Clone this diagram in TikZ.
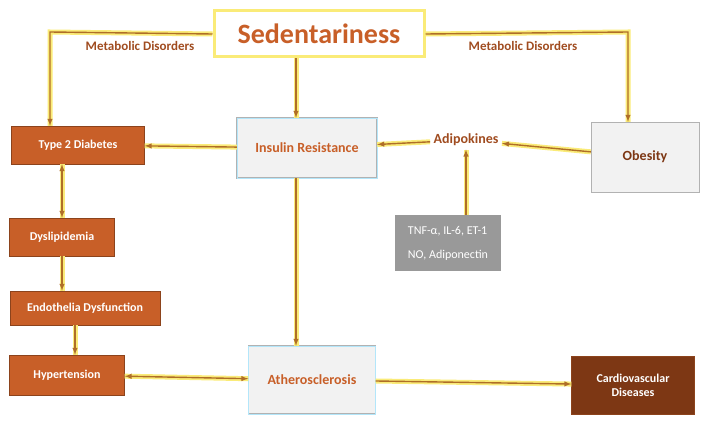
\documentclass[tikz,border=0pt]{standalone}
\usepackage{fontspec}
\setsansfont{Carlito}
\usetikzlibrary{arrows,positioning}
\definecolor{rust}{RGB}{200,95,40}
\definecolor{darkrust}{RGB}{125,55,20}
\definecolor{glow}{RGB}{250,235,120}
\definecolor{line}{RGB}{175,110,40}
\begin{document}
\begin{tikzpicture}[x=1pt,y=-1pt,font=\sffamily\bfseries\fontsize{12}{14}\selectfont,
  orange box/.style={draw=rust!70!black,fill=rust,text=white,minimum height=38pt,inner sep=3pt},
  pale box/.style={draw=gray!60,fill=gray!10,text=rust,minimum height=60pt,font=\sffamily\bfseries\fontsize{14}{16}\selectfont},
  glow line/.style={glow,line width=5pt},
  conn/.style={line,line width=1.4pt,-latex,preaction={draw=glow,line width=5pt,-}}]
  \useasboundingbox (0,0) rectangle (720,436);
  \node[draw=glow,line width=3pt,fill=white,text=rust,minimum width=210pt,minimum height=46pt,font=\sffamily\bfseries\fontsize{28}{30}\selectfont] (sed) at (319,34) {Sedentariness};
  \node[orange box,minimum width=133pt] (t2d) at (78,145) {Type 2 Diabetes};
  \node[pale box,minimum width=140pt,double=cyan!30,double distance=1pt] (ir) at (307,148) {Insulin Resistance};
  \node[text=rust!80!black,font=\sffamily\bfseries\fontsize{14}{16}\selectfont] (adi) at (466,140) {Adipokines};
  \node[pale box,minimum width=108pt,minimum height=70pt,text=darkrust] (ob) at (645,157) {Obesity};
  \node[fill=gray!80,text=white,minimum width=106pt,minimum height=56pt,align=left,font=\sffamily\fontsize{12}{14}\selectfont] (tnf) at (448,243) {TNF-α, IL-6, ET-1\\[10pt]NO, Adiponectin};
  \node[orange box,minimum width=105pt] (dys) at (62,237) {Dyslipidemia};
  \node[orange box,minimum width=150pt,minimum height=34pt] (endo) at (85,308) {Endothelia Dysfunction};
  \node[orange box,minimum width=115pt,minimum height=40pt] (hyp) at (67,375) {Hypertension};
  \node[pale box,minimum width=127pt,minimum height=68pt,double=cyan!30,double distance=1pt] (ath) at (312,380) {Atherosclerosis};
  \node[orange box,fill=darkrust,minimum width=123pt,minimum height=58pt,align=center] (cvd) at (633,385) {Cardiovascular\\Diseases};
  \coordinate (lc) at (50,32);
  \coordinate (rc) at (628,32);
  \draw[conn] (sed.west) -- (lc) -- (t2d.north -| lc);
  \draw[conn] (sed.east) -- (rc) -- (ob.north -| rc);
  \node[text=rust!80!black,font=\sffamily\bfseries\fontsize{13}{15}\selectfont] at (140,46) {Metabolic Disorders};
  \node[text=rust!80!black,font=\sffamily\bfseries\fontsize{13}{15}\selectfont] at (523,46) {Metabolic Disorders};
  \draw[conn] (sed.south -| 296,0) -- (ir.north -| 296,0);
  \draw[conn] (ob) -- (adi);
  \draw[conn] (adi) -- (ir);
  \draw[conn] (ir) -- (t2d);
  \draw[conn] (tnf.north -| adi) -- (adi);
  \draw[conn,latex-latex] (t2d.south -| dys) -- (dys);
  \draw[conn] (dys) -- (dys |- endo.north);
  \draw[conn] (endo.south -| 75,0) -- (hyp.north -| 75,0);
  \draw[conn,latex-latex] (hyp) -- (ath);
  \draw[conn] (ir.south -| 296,0) -- (ath.north -| 296,0);
  \draw[conn] (ath) -- (cvd);
\end{tikzpicture}
\end{document}
